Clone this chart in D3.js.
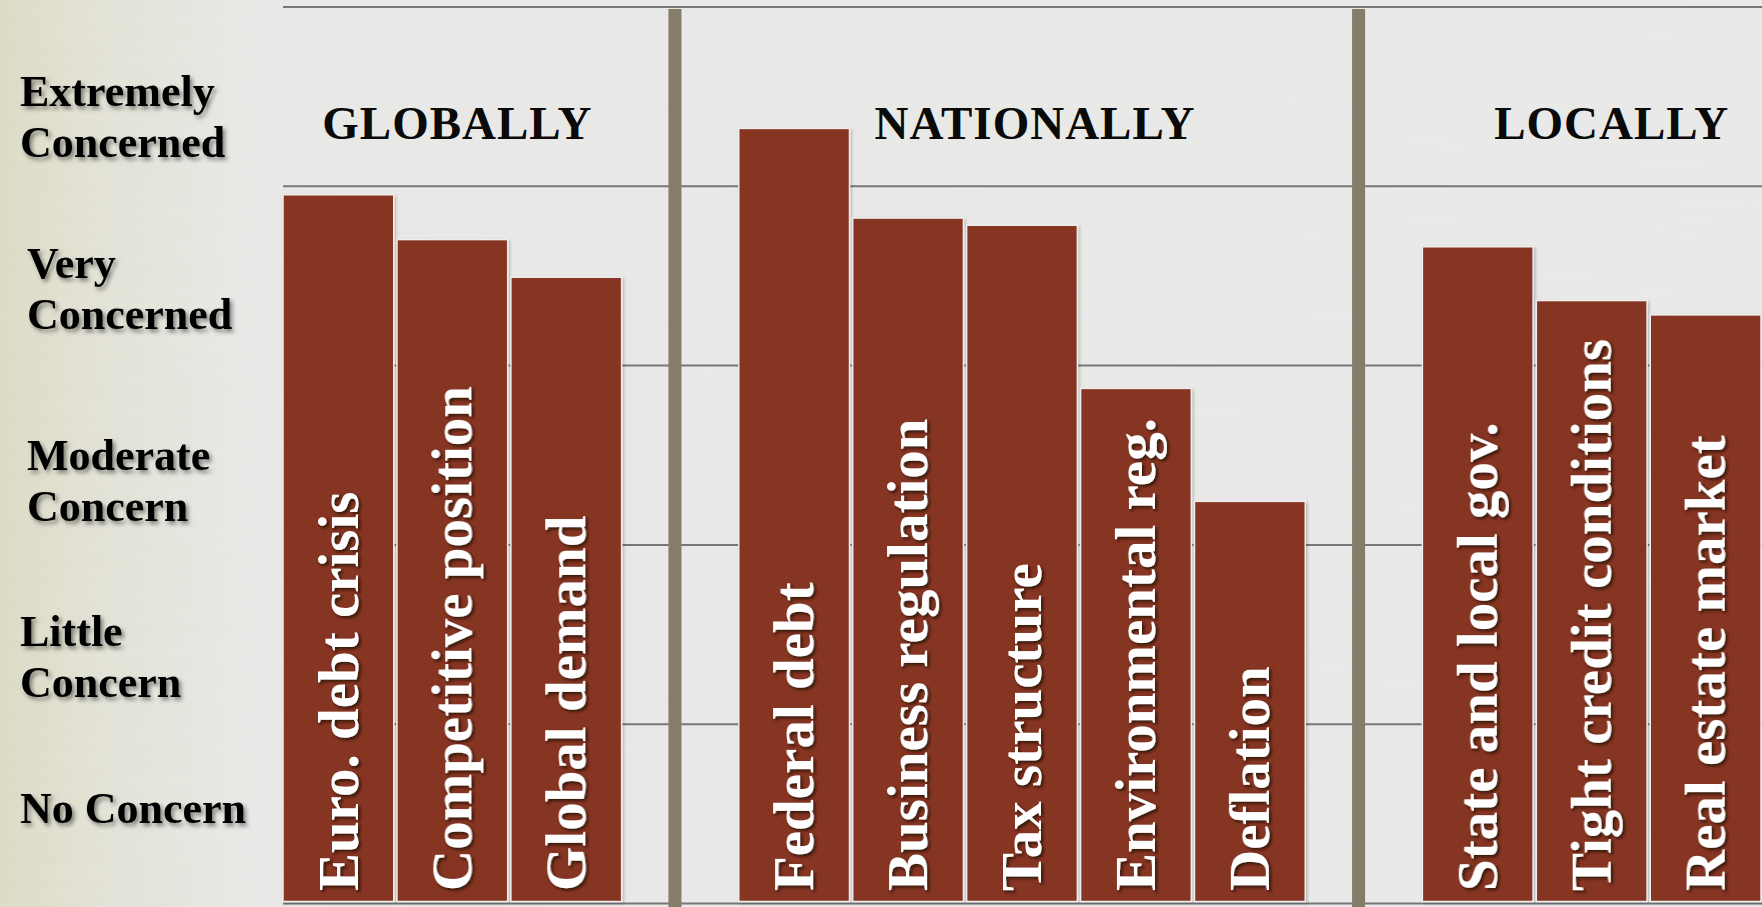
<!DOCTYPE html>
<html>
<head>
<meta charset="utf-8">
<script src="https://cdn.jsdelivr.net/npm/d3@7"></script>
<style>
  html, body { margin: 0; padding: 0; background: #e7e7e7; overflow: hidden; }
  svg { display: block; }
</style>
</head>
<body>
<svg id="chart" width="1762" height="907"></svg>
<script>
// Survey: level of concern about economic issues, by scope
const categories = [
  "Euro. debt crisis", "Competitive position", "Global demand",
  "Federal debt", "Business regulation", "Tax structure", "Environmental reg.", "Deflation",
  "State and local gov.", "Tight credit conditions", "Real estate market"
];
const scopes = [
  "GLOBALLY", "GLOBALLY", "GLOBALLY",
  "NATIONALLY", "NATIONALLY", "NATIONALLY", "NATIONALLY", "NATIONALLY",
  "LOCALLY", "LOCALLY", "LOCALLY"
];
// 0 = No Concern ... 5 = top of Extremely Concerned band
const values = [3.95, 3.70, 3.49, 4.32, 3.82, 3.78, 2.87, 2.24, 3.66, 3.36, 3.28];
const sectionTitles = ["GLOBALLY", "NATIONALLY", "LOCALLY"];
const concernLevels = [
  ["No Concern"],
  ["Little", "Concern"],
  ["Moderate", "Concern"],
  ["Very", "Concerned"],
  ["Extremely", "Concerned"]
];

// ---- layout ----
const W = 1762, H = 907;
const svg = d3.select("#chart");
const defs = svg.append("defs");

// slot index per bar: one empty slot between scope groups
const slotOf = [];
{
  let s = 0;
  categories.forEach((c, i) => {
    if (i > 0 && scopes[i] !== scopes[i - 1]) s += 1;
    slotOf.push(s);
    s += 1;
  });
}
const nSlots = slotOf[slotOf.length - 1] + 1;

const x = d3.scaleBand()
  .domain(d3.range(nSlots))
  .range([283, 1761])
  .paddingInner(0.028)
  .paddingOuter(0);
const y = d3.scaleLinear().domain([0, 5]).range([903, 6.5]);

// ---- background ----
const bgGrad = defs.append("linearGradient")
  .attr("id", "bgGrad").attr("x1", 0).attr("x2", 1).attr("y1", 0).attr("y2", 0);
bgGrad.append("stop").attr("offset", "0%").attr("stop-color", "#dbdac4");
bgGrad.append("stop").attr("offset", "6%").attr("stop-color", "#e2e1d5");
bgGrad.append("stop").attr("offset", "14%").attr("stop-color", "#e7e7e5");
bgGrad.append("stop").attr("offset", "100%").attr("stop-color", "#e8e8e8");
svg.append("rect").attr("width", W).attr("height", H).attr("fill", "url(#bgGrad)");

// faint paper grain
const grain = defs.append("filter").attr("id", "grain")
  .attr("x", 0).attr("y", 0).attr("width", "100%").attr("height", "100%");
grain.append("feTurbulence").attr("type", "fractalNoise")
  .attr("baseFrequency", "0.008 0.12").attr("numOctaves", 2).attr("seed", 3);
grain.append("feColorMatrix").attr("type", "matrix")
  .attr("values", "0 0 0 0 1  0 0 0 0 1  0 0 0 0 1  0 0 0 0.09 0");
svg.append("rect").attr("width", W).attr("height", H).attr("filter", "url(#grain)");

// ---- filters ----
const barShadow = defs.append("filter").attr("id", "barShadow")
  .attr("x", "-5%").attr("y", "-5%").attr("width", "115%").attr("height", "115%");
barShadow.append("feDropShadow").attr("dx", 1.5).attr("dy", 1.5)
  .attr("stdDeviation", 1.5).attr("flood-color", "#000").attr("flood-opacity", 0.22);

const labelShadow = defs.append("filter").attr("id", "labelShadow")
  .attr("x", "-20%").attr("y", "-20%").attr("width", "140%").attr("height", "140%");
labelShadow.append("feDropShadow").attr("dx", 2).attr("dy", 2)
  .attr("stdDeviation", 1.4).attr("flood-color", "#1a0a05").attr("flood-opacity", 0.8);

const axisShadow = defs.append("filter").attr("id", "axisShadow")
  .attr("x", "-20%").attr("y", "-30%").attr("width", "140%").attr("height", "160%");
axisShadow.append("feDropShadow").attr("dx", 2.5).attr("dy", 3)
  .attr("stdDeviation", 2).attr("flood-color", "#000").attr("flood-opacity", 0.45);

// ---- gridlines ----
svg.append("g")
  .attr("transform", `translate(${W},0)`)
  .call(d3.axisRight(y).tickValues(d3.range(0, 6)).tickSize(-(W - 283)).tickFormat(""))
  .call(g => g.select(".domain").remove())
  .call(g => g.selectAll(".tick line").attr("stroke", "#777").attr("stroke-width", 2));

// ---- group dividers ----
const dividerSlots = [];
for (let i = 1; i < categories.length; i++) {
  if (scopes[i] !== scopes[i - 1]) dividerSlots.push(slotOf[i] - 1);
}
svg.append("g").selectAll("rect")
  .data(dividerSlots)
  .join("rect")
  .attr("x", d => x(d) + x.step() * 0.44 - 6.5)
  .attr("y", 9)
  .attr("width", 13)
  .attr("height", H - 9)
  .attr("fill", "#857d69");

// ---- bars ----
const bars = svg.append("g");
bars.selectAll("rect")
  .data(values)
  .join("rect")
  .attr("x", (d, i) => x(slotOf[i]))
  .attr("y", d => y(d))
  .attr("width", x.bandwidth())
  .attr("height", d => y(0) - y(d) - 1.5)
  .attr("fill", "#863424")
  .attr("stroke", "#efeded")
  .attr("stroke-width", 1.5)
  .attr("filter", "url(#barShadow)");

// ---- bar labels (vertical, inside bars) ----
const labelLayer = svg.append("g").attr("filter", "url(#labelShadow)");
labelLayer.selectAll("text")
  .data(categories)
  .join("text")
  .attr("transform", (d, i) => `translate(${x(slotOf[i]) + x.bandwidth() / 2},${y(0) - 12}) rotate(-90)`)
  .attr("dy", "0.34em")
  .attr("text-anchor", "start")
  .attr("font-family", "'Liberation Serif', 'Times New Roman', serif")
  .attr("font-weight", "bold")
  .attr("font-size", 57)
  .attr("fill", "#ffffff")
  .text(d => d);

// ---- section titles ----
const titleShift = [5, 13, 20];
svg.append("g").selectAll("text")
  .data(sectionTitles)
  .join("text")
  .attr("x", (t, k) => {
    const idx = d3.range(categories.length).filter(i => scopes[i] === t);
    const left = x(slotOf[idx[0]]);
    const right = x(slotOf[idx[idx.length - 1]]) + x.bandwidth();
    return (left + right) / 2 + titleShift[k];
  })
  .attr("y", 139)
  .attr("text-anchor", "middle")
  .attr("font-family", "'Liberation Serif', 'Times New Roman', serif")
  .attr("font-weight", "bold")
  .attr("font-size", 47)
  .attr("letter-spacing", 1)
  .attr("fill", "#0a0a0a")
  .text(t => t);

// ---- concern level labels ----
const levelIndent = [20, 20, 27, 27, 20];
const levelDrop = [10, 12, 15, 3, 10];
const levelLayer = svg.append("g").attr("filter", "url(#axisShadow)");
levelLayer.selectAll("text")
  .data(concernLevels)
  .join("text")
  .attr("x", (d, i) => levelIndent[i])
  .attr("y", (d, i) => y(i + 0.5) + levelDrop[i])
  .attr("font-family", "'Liberation Serif', 'Times New Roman', serif")
  .attr("font-weight", "bold")
  .attr("font-size", 44)
  .attr("fill", "#050505")
  .each(function (lines, i) {
    d3.select(this).selectAll("tspan")
      .data(lines)
      .join("tspan")
      .attr("x", levelIndent[i])
      .attr("dy", (l, j) => j === 0 ? 0 : 51)
      .text(l => l);
  });
</script>
</body>
</html>
